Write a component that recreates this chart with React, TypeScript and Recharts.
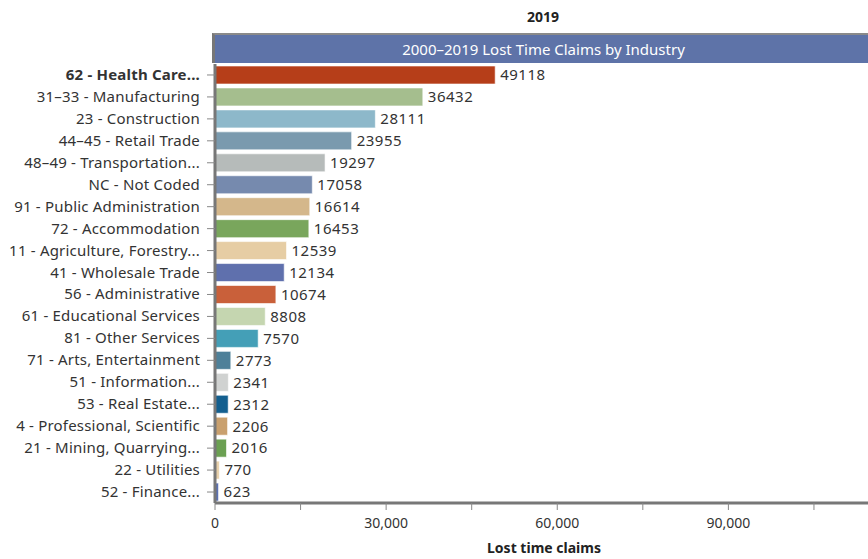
import { Bar, BarChart, XAxis, YAxis, LabelList, Cell } from "recharts";

const industries = [
  "62 - Health Care...",
  "31–33 - Manufacturing",
  "23 - Construction",
  "44–45 - Retail Trade",
  "48–49 - Transportation...",
  "NC - Not Coded",
  "91 - Public Administration",
  "72 - Accommodation",
  "11 - Agriculture, Forestry...",
  "41 - Wholesale Trade",
  "56 - Administrative",
  "61 - Educational Services",
  "81 - Other Services",
  "71 - Arts, Entertainment",
  "51 - Information...",
  "53 - Real Estate...",
  "4 - Professional, Scientific",
  "21 - Mining, Quarrying...",
  "22 - Utilities",
  "52 - Finance...",
];

const claims = [
  49118, 36432, 28111, 23955, 19297, 17058, 16614, 16453, 12539, 12134,
  10674, 8808, 7570, 2773, 2341, 2312, 2206, 2016, 770, 623,
];

const colors = [
  "#b63e19", "#a5be8e", "#8db8ca", "#7a9aae", "#b6bbba", "#768aae",
  "#d4b78b", "#79a65c", "#e6cda4", "#5f70ad", "#c9603a", "#c5d6b0",
  "#449fb7", "#4e8099", "#d0d2d1", "#135f8f", "#c9a06e", "#6ba052",
  "#e8d0aa", "#5b71b3",
];

const xTicks = [0, 15000, 30000, 45000, 60000, 75000, 90000, 105000];

const chartData = industries.map((name, i) => ({ name, claims: claims[i] }));

const FONT = "'Noto Sans', sans-serif";

function IndustryTick(props: any) {
  const { x, y, payload, index } = props;
  return (
    <text
      x={x}
      y={y}
      dy={5}
      textAnchor="end"
      fill="#333"
      fontSize={15}
      letterSpacing={0.2}
      fontFamily={FONT}
      fontWeight={index === 0 ? 700 : 400}
    >
      {payload.value}
    </text>
  );
}

export default function App() {
  return (
    <div
      style={{
        position: "absolute",
        left: 0,
        top: 0,
        width: 868,
        height: 559,
        overflow: "hidden",
        background: "#fff",
        fontFamily: FONT,
      }}
    >
      <div
        style={{
          position: "absolute",
          top: 7,
          left: 0,
          width: 1086,
          textAlign: "center",
          fontWeight: 700,
          fontSize: 14,
          color: "#222",
        }}
      >
        2019
      </div>
      <div
        style={{
          position: "absolute",
          top: 33,
          left: 212,
          width: 700,
          height: 28,
          borderTop: "2px solid #8a8a8a",
          borderLeft: "3px solid #777",
          background: "#5e73a8",
          color: "#fff",
          fontSize: 15,
          lineHeight: "28px",
          boxSizing: "content-box",
        }}
      >
        <div style={{ position: "absolute", left: 0, width: 657, textAlign: "center" }}>
          2000–2019 Lost Time Claims by Industry
        </div>
      </div>
      <BarChart
        width={900}
        height={559}
        data={chartData}
        layout="vertical"
        margin={{ top: 64, right: 29, bottom: 0, left: 0 }}
        barCategoryGap={2}
        style={{ position: "absolute", left: 0, top: 0 }}
      >
        <XAxis
          type="number"
          domain={[0, 115000]}
          ticks={xTicks}
          allowDataOverflow
          height={56}
          axisLine={{ stroke: "#777", strokeWidth: 3 }}
          tickLine={{ stroke: "#888" }}
          tickSize={7}
          tickMargin={8}
          tick={{ fill: "#333", fontSize: 14, fontFamily: FONT }}
          tickFormatter={(v: number) => (v % 30000 === 0 ? v.toLocaleString("en-US") : "")}
          label={{
            value: "Lost time claims",
            position: "insideBottom",
            offset: 6,
            fill: "#222",
            fontSize: 14,
            fontWeight: 700,
            fontFamily: FONT,
            dx: 1,
          }}
        />
        <YAxis
          type="category"
          dataKey="name"
          width={215}
          axisLine={{ stroke: "#777", strokeWidth: 3 }}
          tickLine={{ stroke: "#888" }}
          tickSize={8}
          tickMargin={7}
          interval={0}
          tick={<IndustryTick />}
        />
        <Bar dataKey="claims" isAnimationActive={false} stroke="#ffffff" strokeOpacity={0.6} strokeWidth={1}>
          {chartData.map((d, i) => (
            <Cell key={d.name} fill={colors[i]} />
          ))}
          <LabelList
            dataKey="claims"
            position="right"
            offset={5}
            fill="#333"
            fontSize={15}
            letterSpacing={0.5}
            fontFamily={FONT}
          />
        </Bar>
      </BarChart>
    </div>
  );
}
